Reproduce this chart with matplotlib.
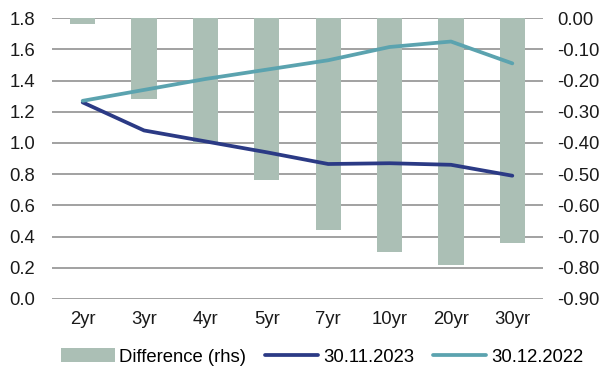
import numpy as np
import matplotlib.pyplot as plt

plt.rcParams['font.family'] = ['Liberation Sans', 'DejaVu Sans']
plt.rcParams['font.size'] = 13.3

# Curve points by maturity
tenors = ['2yr', '3yr', '4yr', '5yr', '7yr', '10yr', '20yr', '30yr']
curve_2023 = [1.26, 1.08, 1.01, 0.94, 0.865, 0.87, 0.86, 0.79]
curve_2022 = [1.27, 1.34, 1.41, 1.47, 1.53, 1.615, 1.65, 1.51]
difference = [-0.02, -0.26, -0.40, -0.52, -0.68, -0.75, -0.79, -0.72]

bar_color = '#abbfb5'
navy = '#2b3a85'
teal = '#5ba3af'
grid_color = '#888888'

fig = plt.figure(figsize=(6.02, 3.70), dpi=100)
ax = fig.add_axes([0.0864, 0.192, 0.8156, 0.759])
ax2 = ax.twinx()

x = np.arange(len(tenors))

# bars on the right-hand axis, behind the lines
ax2.bar(x, difference, width=0.41, color=bar_color, label='Difference (rhs)', zorder=2)
rhs_ticks = np.round(np.arange(-0.9, 0.001, 0.1), 2)
ax2.set_ylim(-0.9, 0.0)
ax2.set_yticks(rhs_ticks)
ax2.set_yticklabels([f'{abs(v):.2f}' if v == 0 else f'{v:.2f}' for v in rhs_ticks])
ax2.yaxis.grid(True, color=grid_color, linewidth=1.1, zorder=0)
ax2.set_axisbelow(True)

ax.set_zorder(ax2.get_zorder() + 1)
ax.patch.set_visible(False)
ax.plot(x, curve_2023, color=navy, linewidth=2.7, label='30.11.2023', solid_capstyle='round')
ax.plot(x, curve_2022, color=teal, linewidth=2.7, label='30.12.2022', solid_capstyle='round')
ax.set_ylim(0, 1.8)
ax.set_yticks(np.arange(0, 1.81, 0.2))
ax.set_yticklabels([f'{v:.1f}' for v in np.arange(0, 1.81, 0.2)])
ax.set_xlim(-0.5, len(tenors) - 0.5)
ax.set_xticks(x)
ax.set_xticklabels(tenors)

for a in (ax, ax2):
    for s in a.spines.values():
        s.set_visible(False)
    a.tick_params(length=0, colors='#1a1a1a', labelsize=13.3)
ax.tick_params(axis='x', pad=9)
ax.tick_params(axis='y', pad=12)
ax2.tick_params(axis='y', pad=10.5)

handles = ax2.get_legend_handles_labels()[0] + ax.get_legend_handles_labels()[0]
labels = ['Difference (rhs)', '30.11.2023', '30.12.2022']
fig.legend(handles, labels, loc='center', bbox_to_anchor=(0.535, 0.035), ncol=3,
           frameon=False, handlelength=2.9, handleheight=0.8, columnspacing=1.0,
           handletextpad=0.25, fontsize=13.3)

fig.savefig('out.png', dpi=100)
